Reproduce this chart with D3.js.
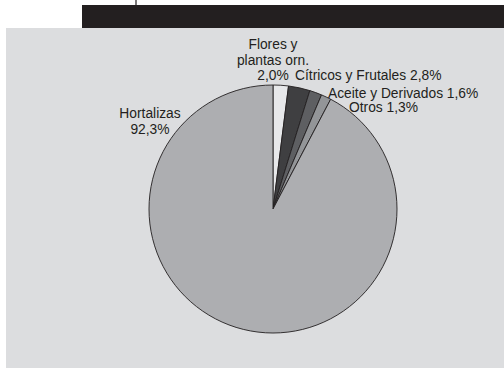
<!DOCTYPE html>
<html><head><meta charset="utf-8">
<script src="https://cdn.jsdelivr.net/npm/d3@7"></script>
<style>body{margin:0;background:#fff}svg{display:block}</style>
</head><body>
<svg id="c" width="504" height="368"></svg>
<script>
const categories = ["Flores y plantas orn.", "Cítricos y Frutales", "Aceite y Derivados", "Otros", "Hortalizas"];
const values = [2.0, 2.8, 1.6, 1.3, 92.3];
const valueLabels = ["2,0%", "2,8%", "1,6%", "1,3%", "92,3%"];
const colors = ["#e7e8ea", "#3f3f41", "#5e5f62", "#939598", "#adaeb1"];

const svg = d3.select("#c");
const ink = "#231f20";
// header band and panel
svg.append("rect").attr("x", 82).attr("y", 5).attr("width", 422).attr("height", 23).attr("fill", ink);
svg.append("line").attr("x1", 136).attr("x2", 136).attr("y1", 0).attr("y2", 5).attr("stroke", ink).attr("stroke-width", 1.2);
svg.append("rect").attr("x", 6).attr("y", 28).attr("width", 498).attr("height", 340).attr("fill", "#dcdddf");

const cx = 273, cy = 209, r = 124;
const pie = d3.pie().sort(null).value(d => d)(values);
const arc = d3.arc().innerRadius(0).outerRadius(r);
const g = svg.append("g").attr("transform", `translate(${cx},${cy})`);
g.selectAll("path").data(pie).join("path")
  .attr("d", arc)
  .attr("fill", (d, i) => colors[i])
  .attr("stroke", ink).attr("stroke-width", 0.9).attr("stroke-linejoin", "round");

// labels
const labelLayout = [
  {lines: ["Flores y", "plantas orn.", valueLabels[0]], x: 273, y: 49, anchor: "middle", dy: 15.5},
  {lines: [categories[1] + " " + valueLabels[1]], x: 295, y: 80, anchor: "start", dy: 15},
  {lines: [categories[2] + " " + valueLabels[2]], x: 328, y: 98, anchor: "start", dy: 15},
  {lines: [categories[3] + " " + valueLabels[3]], x: 349, y: 112, anchor: "start", dy: 15},
  {lines: [categories[4], valueLabels[4]], x: 150, y: 118, anchor: "middle", dy: 16}
];
const t = svg.append("g").attr("font-family", "'Liberation Sans', Arial, Helvetica, sans-serif")
  .attr("font-size", 13.8).attr("fill", ink);
labelLayout.forEach(L => {
  const tx = t.append("text").attr("text-anchor", L.anchor);
  L.lines.forEach((s, k) => tx.append("tspan").attr("x", L.x).attr("y", L.y + k * L.dy).text(s));
});
</script>
</body></html>
